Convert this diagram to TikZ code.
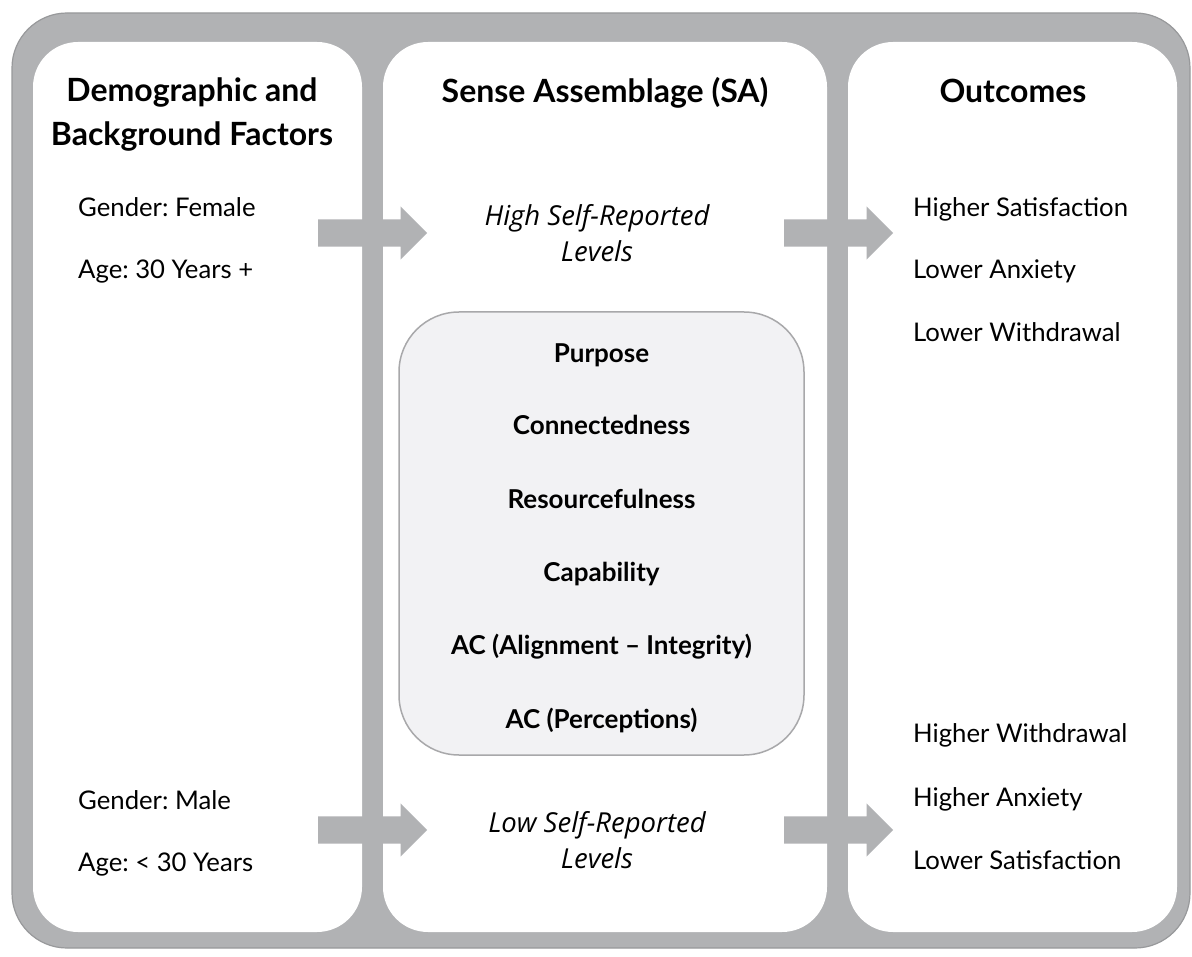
\documentclass[tikz,border=0pt]{standalone}
\usepackage{fontspec}
\setmainfont{Lato}
\newfontfamily\levelfont{Open Sans}
\usetikzlibrary{shapes.arrows, positioning}
\frenchspacing

\definecolor{framegray}{RGB}{177,178,180}
\definecolor{frameedge}{RGB}{152,153,155}
\definecolor{boxfill}{RGB}{242,242,244}
\definecolor{boxedge}{RGB}{168,168,170}

\begin{document}
\begin{tikzpicture}[x=1pt, y=-1pt,
    panel/.style={fill=white, rounded corners=45pt, inner sep=0pt},
    head/.style={font=\fontsize{32}{44}\selectfont\bfseries, align=center, anchor=base},
    item/.style={font=\fontsize{25.7}{30}\selectfont, anchor=base west, inner sep=0pt},
    level/.style={font=\levelfont\itshape\fontsize{27.5}{36}\selectfont, align=center, anchor=base},
    factor/.style={font=\fontsize{26}{30}\selectfont\bfseries, anchor=base, inner sep=0pt},
    blockarrow/.style={single arrow, fill=framegray, minimum height=109pt, inner xsep=0pt,
        inner ysep=13.5pt, single arrow head extend=13pt, single arrow head indent=0pt, anchor=tail}
]
    \useasboundingbox (0,0) rectangle (1192,957);

    % Frame
    \fill[framegray, draw=frameedge, line width=1.2pt, rounded corners=55pt] (12,13) rectangle (1190,948);

    % Panels
    \node[panel, minimum width=329pt, minimum height=890pt] (demog) at (197.5,487) {};
    \node[panel, minimum width=444pt, minimum height=890pt] (sense) at (605,487) {};
    \node[panel, minimum width=329pt, minimum height=890pt] (outcome) at (1012.5,487) {};

    % Headings
    \node[head] (demogtitle) at (192,146) {Demographic and\\Background Factors};
    \node[head] (sensetitle) at (605,103) {Sense Assemblage (SA)};
    \node[head] (outcometitle) at (1013,103) {Outcomes};

    % Background factors
    \node[item] (female) at (78,217) {Gender: Female};
    \node[item] (older) at (78,279) {Age: 30 Years +};
    \node[item] (male) at (78,809) {Gender: Male};
    \node[item] (younger) at (78,871) {Age: < 30 Years};

    % Self-reported levels
    \node[level] (high) at (597,262) {High Self-Reported\\Levels};
    \node[level] (low) at (597,868) {Low Self-Reported\\Levels};

    % SA factors
    \node[fill=boxfill, draw=boxedge, line width=1.5pt, rounded corners=60pt,
        minimum width=405pt, minimum height=443pt] (factors) at (601.5,533.5) {};
    \node[factor] (purpose) at (601.5,363) {Purpose};
    \node[factor] (connected) at (601.5,435) {Connectedness};
    \node[factor] (resource) at (601.5,508) {Resourcefulness};
    \node[factor] (capable) at (601.5,581) {Capability};
    \node[factor] (acalign) at (601.5,654) {AC (Alignment -- Integrity)};
    \node[factor] (acperc) at (601.5,728) {AC (Perceptions)};

    % Outcomes
    \node[item] (hisat) at (913,217) {Higher Satisfaction};
    \node[item] (loanx) at (913,279) {Lower Anxiety};
    \node[item] (lowdr) at (913,342) {Lower Withdrawal};
    \node[item] (hiwdr) at (913,742) {Higher Withdrawal};
    \node[item] (hianx) at (913,806) {Higher Anxiety};
    \node[item] (losat) at (913,869) {Lower Satisfaction};

    % Arrows
    \node[blockarrow] (arrhighin) at (318,233) {};
    \node[blockarrow] (arrhighout) at (784,233) {};
    \node[blockarrow] (arrlowin) at (318,830) {};
    \node[blockarrow] (arrlowout) at (784,830) {};
\end{tikzpicture}
\end{document}
